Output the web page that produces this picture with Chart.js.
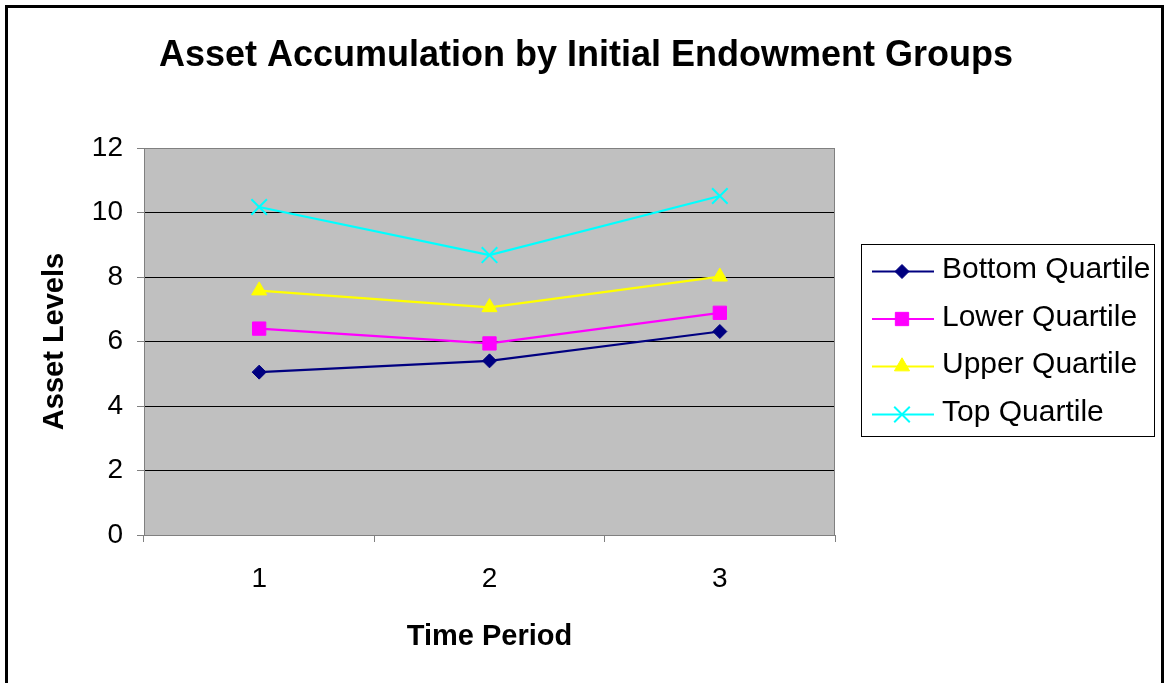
<!DOCTYPE html>
<html>
<head>
<meta charset="utf-8">
<script src="https://cdn.jsdelivr.net/npm/chart.js@4/dist/chart.umd.min.js"></script>
<style>
  html, body { margin: 0; padding: 0; background: #ffffff; }
  #wrap { width: 1165px; height: 683px; position: relative; }
</style>
</head>
<body>
<div id="wrap"><canvas id="chart" width="1165" height="683"></canvas></div>
<script>
// Asset levels by initial endowment quartile, over three time periods
const periods = ['1', '2', '3'];
const bottomQuartile = [5.05, 5.40, 6.31];
const lowerQuartile  = [6.40, 5.94, 6.89];
const upperQuartile  = [7.58, 7.06, 8.01];
const topQuartile    = [10.17, 8.68, 10.51];
const seriesNames = ['Bottom Quartile', 'Lower Quartile', 'Upper Quartile', 'Top Quartile'];
const yTickValues = [0, 2, 4, 6, 8, 10, 12];
const chartTitle = 'Asset Accumulation by Initial Endowment Groups';
const xTitle = 'Time Period';
const yTitle = 'Asset Levels';

const FONT = "'Liberation Sans', Arial, sans-serif";

const seriesStyles = [
  { color: '#000080', pointStyle: 'rectRot', radius: 7,   borderWidth: 1 },
  { color: '#FF00FF', pointStyle: 'rect',    radius: 9.4, borderWidth: 1 },
  { color: '#FFFF00', pointStyle: 'triangle', radius: 8.7, borderWidth: 1 },
  { color: '#00FFFF', pointStyle: 'crossRot', radius: 11, borderWidth: 2 }
];
const seriesValues = [bottomQuartile, lowerQuartile, upperQuartile, topQuartile];

const datasets = seriesValues.map((vals, i) => ({
  label: seriesNames[i],
  data: vals,
  borderColor: seriesStyles[i].color,
  backgroundColor: seriesStyles[i].color,
  borderWidth: 2.2,
  tension: 0,
  fill: false,
  pointStyle: seriesStyles[i].pointStyle,
  pointRadius: seriesStyles[i].radius,
  pointHoverRadius: seriesStyles[i].radius,
  pointBackgroundColor: seriesStyles[i].color,
  pointBorderColor: seriesStyles[i].color,
  pointBorderWidth: seriesStyles[i].borderWidth
}));

// Page background, grey plot area, framing, title and legend box
const decorations = {
  id: 'decorations',
  beforeDraw(chart) {
    const { ctx, chartArea: a } = chart;
    ctx.save();
    ctx.fillStyle = '#ffffff';
    ctx.fillRect(0, 0, chart.width, chart.height);
    ctx.fillStyle = '#C0C0C0';
    ctx.fillRect(a.left, a.top, a.right - a.left, a.bottom - a.top);
    ctx.restore();
  },
  afterDraw(chart) {
    const { ctx, chartArea: a } = chart;
    ctx.save();
    // plot area outline (top and right)
    ctx.strokeStyle = '#808080';
    ctx.lineWidth = 1;
    ctx.beginPath();
    ctx.moveTo(a.left, a.top + 0.5);
    ctx.lineTo(a.right - 0.5, a.top + 0.5);
    ctx.lineTo(a.right - 0.5, a.bottom);
    ctx.stroke();

    // chart title
    ctx.fillStyle = '#000000';
    ctx.font = 'bold 36px ' + FONT;
    ctx.textAlign = 'center';
    ctx.textBaseline = 'alphabetic';
    ctx.fillText(chartTitle, 586, 66);

    // legend
    const box = { x: 861, y: 244, w: 294, h: 193 };
    ctx.fillStyle = '#ffffff';
    ctx.fillRect(box.x, box.y, box.w, box.h);
    ctx.strokeStyle = '#000000';
    ctx.lineWidth = 1;
    ctx.strokeRect(box.x + 0.5, box.y + 0.5, box.w - 1, box.h - 1);
    const rowY = [271.5, 319, 366.5, 414.5];
    chart.data.datasets.forEach((ds, i) => {
      const y = rowY[i];
      ctx.strokeStyle = ds.borderColor;
      ctx.lineWidth = 2;
      ctx.beginPath();
      ctx.moveTo(872, y);
      ctx.lineTo(934, y);
      ctx.stroke();
      ctx.fillStyle = ds.pointBackgroundColor;
      ctx.strokeStyle = ds.pointBorderColor;
      ctx.lineWidth = ds.pointBorderWidth;
      Chart.helpers.drawPoint(ctx, {
        pointStyle: ds.pointStyle,
        rotation: 0,
        radius: ds.pointRadius,
        borderWidth: ds.pointBorderWidth
      }, 902, y);
      ctx.fillStyle = '#000000';
      ctx.font = '30px ' + FONT;
      ctx.textAlign = 'left';
      ctx.textBaseline = 'alphabetic';
      ctx.fillText(ds.label, 942, y + 6.5);
    });

    // outer frame
    ctx.strokeStyle = '#000000';
    ctx.lineWidth = 3;
    ctx.strokeRect(6.5, 6.5, 1156, 720);
    ctx.restore();
  }
};

new Chart(document.getElementById('chart'), {
  type: 'line',
  data: { labels: periods, datasets },
  options: {
    responsive: false,
    animation: false,
    devicePixelRatio: 1,
    layout: { padding: { top: 148, right: 330, bottom: 0, left: 0 } },
    plugins: {
      legend: { display: false },
      title: { display: false },
      tooltip: { enabled: false }
    },
    scales: {
      x: {
        type: 'category',
        offset: true,
        afterFit: s => { s.height = 148; },
        grid: {
          offset: true,
          drawOnChartArea: false,
          drawTicks: true,
          tickLength: 7,
          tickColor: '#808080',
          tickWidth: 1
        },
        border: { display: true, color: '#808080', width: 1 },
        ticks: {
          color: '#000000',
          padding: 20,
          maxRotation: 0,
          font: { family: FONT, size: 28 }
        },
        title: {
          display: true,
          text: xTitle,
          color: '#000000',
          font: { family: FONT, size: 29, weight: 'bold' },
          padding: { top: 0, bottom: 29 }
        }
      },
      y: {
        min: 0,
        max: 12,
        afterFit: s => { s.width = 144; },
        afterBuildTicks: s => { s.ticks = yTickValues.map(v => ({ value: v })); },
        grid: {
          drawOnChartArea: true,
          drawTicks: true,
          tickLength: 7,
          tickColor: '#808080',
          color: c => (c.tick && (c.tick.value === 0 || c.tick.value === 12)) ? '#808080' : '#000000',
          lineWidth: 1
        },
        border: { display: true, color: '#808080', width: 1 },
        ticks: {
          color: '#000000',
          padding: 14,
          font: { family: FONT, size: 28 }
        },
        title: {
          display: true,
          text: yTitle,
          color: '#000000',
          font: { family: FONT, size: 29, weight: 'bold' },
          padding: { top: 38, bottom: 0 }
        }
      }
    }
  },
  plugins: [decorations]
});
</script>
</body>
</html>
